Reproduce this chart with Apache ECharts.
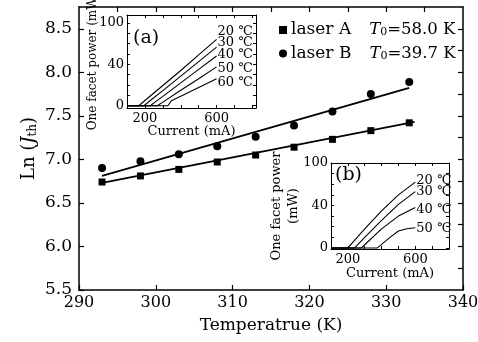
<!DOCTYPE html>
<html>
<head>
<meta charset="utf-8">
<script src="https://cdn.jsdelivr.net/npm/echarts@6/dist/echarts.min.js"></script>
<style>
html,body{margin:0;padding:0;background:#fff;}
#c{width:478px;height:342px;}
</style>
</head>
<body>
<div id="c"></div>
<script>
// ---- main chart data ----
const temps = [293, 298, 303, 308, 313, 318, 323, 328, 333];
const lnJthA = [6.74, 6.81, 6.885, 6.97, 7.05, 7.14, 7.23, 7.33, 7.42];
const lnJthB = [6.90, 6.98, 7.06, 7.15, 7.26, 7.39, 7.55, 7.75, 7.89];
const fitTempsA = [293, 333.7];
const fitA = [6.73, 7.43];
const fitTempsB = [293, 333];
const fitB = [6.81, 7.82];
const xTickLabels = [290, 300, 310, 320, 330, 340];
const yTickLabels = [5.5, 6.0, 6.5, 7.0, 7.5, 8.0, 8.5];
const seriesNames = ['laser A', 'laser B'];
const t0Values = ['58.0', '39.7'];

// ---- inset (a) data: current (mA) vs one facet power (mW) ----
const insetATemps = ['20 ℃', '30 ℃', '40 ℃', '50 ℃', '60 ℃'];
const currA20 = [100, 166, 200, 300, 400, 500, 600];
const powA20  = [0, 0, 5, 19.5, 34, 49, 64];
const currA30 = [100, 194, 230, 300, 400, 500, 600];
const powA30  = [0, 0, 5, 14.5, 28.5, 42.5, 56.5];
const currA40 = [100, 230, 260, 300, 400, 500, 600];
const powA40  = [0, 0, 4, 9, 22, 35, 48];
const currA50 = [100, 269, 300, 400, 500, 600];
const powA50  = [0, 0, 3.5, 15, 26, 37.5];
const currA60 = [100, 328, 348, 400, 500, 600];
const powA60  = [0, 0, 4.8, 9.2, 17.6, 26];
const insetAXLabels = [200, 600];
const insetAYLabels = ['0', '40', '100'];

// ---- inset (b) data ----
const insetBTemps = ['20 ℃', '30 ℃', '40 ℃', '50 ℃'];
const currB20 = [100, 200, 250, 300, 400, 500, 600];
const powB20  = [0, 0, 9, 18, 35, 50, 62];
const currB30 = [100, 240, 300, 400, 500, 600];
const powB30  = [0, 0, 10, 26, 41, 53];
const currB40 = [100, 280, 300, 400, 500, 600];
const powB40  = [0, 0, 3, 18, 30, 38];
const currB50 = [100, 375, 450, 500, 550, 600];
const powB50  = [0, 0, 10, 16, 18, 19];
const insetBXLabels = [200, 600];
const insetBYLabels = ['0', '40', '100'];

const zip = (xs, ys) => xs.map((x, i) => [x, ys[i]]);
const FONT = 'DejaVu Serif, Noto Sans CJK SC, serif';

const chart = echarts.init(document.getElementById('c'), null, {renderer: 'canvas'});

function range(a, b, s) { const r = []; for (let v = a; v <= b + 1e-9; v += s) r.push(+v.toFixed(4)); return r; }

const mainLine = {onZero: false, lineStyle: {color: '#000', width: 1.5}};
const insetLine = {onZero: false, lineStyle: {color: '#000', width: 1}};

function insetAxes(gi, xmin, xmax, ymin, ymax, xLabels, yLabelVals, yLabelTxt, yName, yNameGap, nameSize, xNameGap) {
  const xs = [
    {type: 'value', gridIndex: gi, min: xmin, max: xmax, position: 'bottom', z: 6,
     axisLine: insetLine, splitLine: {show: false},
     axisTick: {inside: true, length: 3, lineStyle: {color: '#000'}, customValues: range(200, 800, 100)},
     axisLabel: {customValues: xLabels, margin: 4, color: '#000', fontFamily: FONT, fontSize: 13},
     name: 'Current (mA)', nameLocation: 'middle', nameGap: xNameGap, nameMoveOverlap: false,
     nameTextStyle: {color: '#000', fontFamily: FONT, fontSize: 13}},
    {type: 'value', gridIndex: gi, min: xmin, max: xmax, position: 'top', z: 6,
     axisLine: insetLine, splitLine: {show: false},
     axisTick: {inside: true, length: 3, lineStyle: {color: '#000'}, customValues: range(200, 800, 100)},
     axisLabel: {show: false}}
  ];
  const ys = [
    {type: 'value', gridIndex: gi, min: ymin, max: ymax, position: 'left', z: 6,
     axisLine: insetLine, splitLine: {show: false},
     axisTick: {inside: true, length: 3, lineStyle: {color: '#000'}, customValues: range(0, Math.floor(ymax / 10) * 10, 10)},
     axisLabel: {customValues: yLabelVals, margin: 3, color: '#000', fontFamily: FONT, fontSize: 13,
       formatter: v => yLabelTxt[yLabelVals.indexOf(v)]},
     name: yName, nameLocation: 'middle', nameGap: yNameGap, nameMoveOverlap: false,
     nameTextStyle: {color: '#000', fontFamily: FONT, fontSize: nameSize, lineHeight: 17}},
    {type: 'value', gridIndex: gi, min: ymin, max: ymax, position: 'right', z: 6,
     axisLine: insetLine, splitLine: {show: false},
     axisTick: {inside: true, length: 3, lineStyle: {color: '#000'}, customValues: range(0, Math.floor(ymax / 10) * 10, 10)},
     axisLabel: {show: false}}
  ];
  return {xs, ys};
}

const ia = insetAxes(1, 100, 820, -2.2, 87.5, insetAXLabels, [0, 40, 80], insetAYLabels, 'One facet power (mW)', 26, 12, 17);
const ib = insetAxes(2, 100, 800, -1, 80, insetBXLabels, [0, 40, 80], insetBYLabels, 'One facet power\n(mW)', 29, 13, 18);

function curve(name, data, xi, yi, dy) {
  return {
    type: 'line', name: name, xAxisIndex: xi, yAxisIndex: yi, data: data,
    showSymbol: false, symbol: 'none', silent: true, z: 5,
    lineStyle: {color: '#000', width: 1.1},
    endLabel: {show: true, formatter: name, distance: 1, offset: [0, dy],
      color: '#000', fontFamily: FONT, fontSize: 13}
  };
}

const option = {
  animation: false,
  backgroundColor: '#fff',
  textStyle: {fontFamily: FONT},
  grid: [
    {left: 79, right: 15, top: 7, bottom: 52, show: false, outerBoundsMode: 'none', containLabel: false},
    {left: 127, top: 15, width: 129, height: 93, show: true, backgroundColor: '#fff', borderWidth: 0, outerBoundsMode: 'none', containLabel: false},
    {left: 331, top: 163, width: 118, height: 86, show: true, backgroundColor: '#fff', borderWidth: 0, outerBoundsMode: 'none', containLabel: false}
  ],
  legend: {
    data: seriesNames, orient: 'vertical', left: 274, top: 13, itemGap: 3,
    itemWidth: 8, itemHeight: 8,
    itemStyle: {opacity: 1, color: '#000'},
    formatter: n => '{n|' + n + '}{i|T}{s|0}{v|=' + t0Values[seriesNames.indexOf(n)] + ' K}',
    textStyle: {color: '#000', fontFamily: FONT, fontSize: 17, padding: [0, 0, 0, -1],
      rich: {
        n: {fontFamily: FONT, fontSize: 17, color: '#000', lineHeight: 16},
        v: {fontFamily: FONT, fontSize: 16.5, color: '#000', lineHeight: 16},
        i: {fontFamily: FONT, fontSize: 16.5, fontStyle: 'italic', color: '#000', padding: [0, 0, 0, 18], lineHeight: 16},
        s: {fontFamily: FONT, fontSize: 11, color: '#000', verticalAlign: 'bottom', padding: [9, 0, 0, 0], lineHeight: 16}
      }}
  },
  xAxis: [
    {type: 'value', gridIndex: 0, min: 290, max: 340, position: 'bottom',
     axisLine: mainLine, splitLine: {show: false},
     axisTick: {inside: true, length: 5, lineStyle: {color: '#000', width: 1.2}, customValues: xTickLabels},
     axisLabel: {customValues: xTickLabels, margin: 5, color: '#000', fontFamily: FONT, fontSize: 16},
     name: 'Temperatrue (K)', nameLocation: 'middle', nameGap: 27, nameMoveOverlap: false,
     nameTextStyle: {color: '#000', fontFamily: FONT, fontSize: 17}},
    {type: 'value', gridIndex: 0, min: 290, max: 340, position: 'top',
     axisLine: mainLine, splitLine: {show: false},
     axisTick: {inside: true, length: 5, lineStyle: {color: '#000', width: 1.2}, customValues: range(295, 335, 5)},
     axisLabel: {show: false}},
    ...ia.xs, ...ib.xs
  ],
  yAxis: [
    {type: 'value', gridIndex: 0, min: 5.5, max: 8.75, position: 'left',
     axisLine: mainLine, splitLine: {show: false},
     axisTick: {inside: true, length: 5, lineStyle: {color: '#000', width: 1.2}, customValues: yTickLabels},
     axisLabel: {customValues: yTickLabels, margin: 7, color: '#000', fontFamily: FONT, fontSize: 17,
       formatter: v => v.toFixed(1)},
     name: '{n|Ln (}{i|J}{s|th}{n|)}', nameLocation: 'middle', nameGap: 40, nameMoveOverlap: false,
     nameTextStyle: {color: '#000', fontFamily: FONT, fontSize: 18,
       rich: {
         n: {fontFamily: FONT, fontSize: 18, color: '#000', lineHeight: 20},
         i: {fontFamily: FONT, fontSize: 18, fontStyle: 'italic', color: '#000', lineHeight: 20},
         s: {fontFamily: FONT, fontSize: 12, color: '#000', verticalAlign: 'bottom', padding: [10, 0, 0, 0], lineHeight: 20}
       }}},
    {type: 'value', gridIndex: 0, min: 5.5, max: 8.75, position: 'right',
     axisLine: mainLine, splitLine: {show: false},
     axisTick: {inside: true, length: 5, lineStyle: {color: '#000', width: 1.2}, customValues: range(5.75, 8.5, 0.25)},
     axisLabel: {show: false}},
    ...ia.ys, ...ib.ys
  ],
  graphic: [
    {type: 'text', left: 133, top: 29, z: 100, style: {text: '(a)', fontFamily: FONT, fontSize: 19, fill: '#000'}},
    {type: 'text', left: 335, top: 166, z: 100, style: {text: '(b)', fontFamily: FONT, fontSize: 19, fill: '#000'}}
  ],
  series: [
    {type: 'scatter', name: seriesNames[0], xAxisIndex: 0, yAxisIndex: 0, data: zip(temps, lnJthA),
     symbol: 'rect', symbolSize: 7, itemStyle: {color: '#000', opacity: 1}, z: 4},
    {type: 'scatter', name: seriesNames[1], xAxisIndex: 0, yAxisIndex: 0, data: zip(temps, lnJthB),
     symbol: 'circle', symbolSize: 8, itemStyle: {color: '#000', opacity: 1}, z: 4},
    {type: 'line', name: 'fitA', xAxisIndex: 0, yAxisIndex: 0, data: zip(fitTempsA, fitA),
     showSymbol: false, symbol: 'none', lineStyle: {color: '#000', width: 1.8}},
    {type: 'line', name: 'fitB', xAxisIndex: 0, yAxisIndex: 0, data: zip(fitTempsB, fitB),
     showSymbol: false, symbol: 'none', lineStyle: {color: '#000', width: 1.8}},
    curve(insetATemps[0], zip(currA20, powA20), 2, 2, -8),
    curve(insetATemps[1], zip(currA30, powA30), 2, 2, -5),
    curve(insetATemps[2], zip(currA40, powA40), 2, 2, -1),
    curve(insetATemps[3], zip(currA50, powA50), 2, 2, 2),
    curve(insetATemps[4], zip(currA60, powA60), 2, 2, 4),
    curve(insetBTemps[0], zip(currB20, powB20), 4, 4, -1),
    curve(insetBTemps[1], zip(currB30, powB30), 4, 4, 0),
    curve(insetBTemps[2], zip(currB40, powB40), 4, 4, 2),
    curve(insetBTemps[3], zip(currB50, powB50), 4, 4, 1)
  ]
};
chart.setOption(option);
</script>
</body>
</html>
